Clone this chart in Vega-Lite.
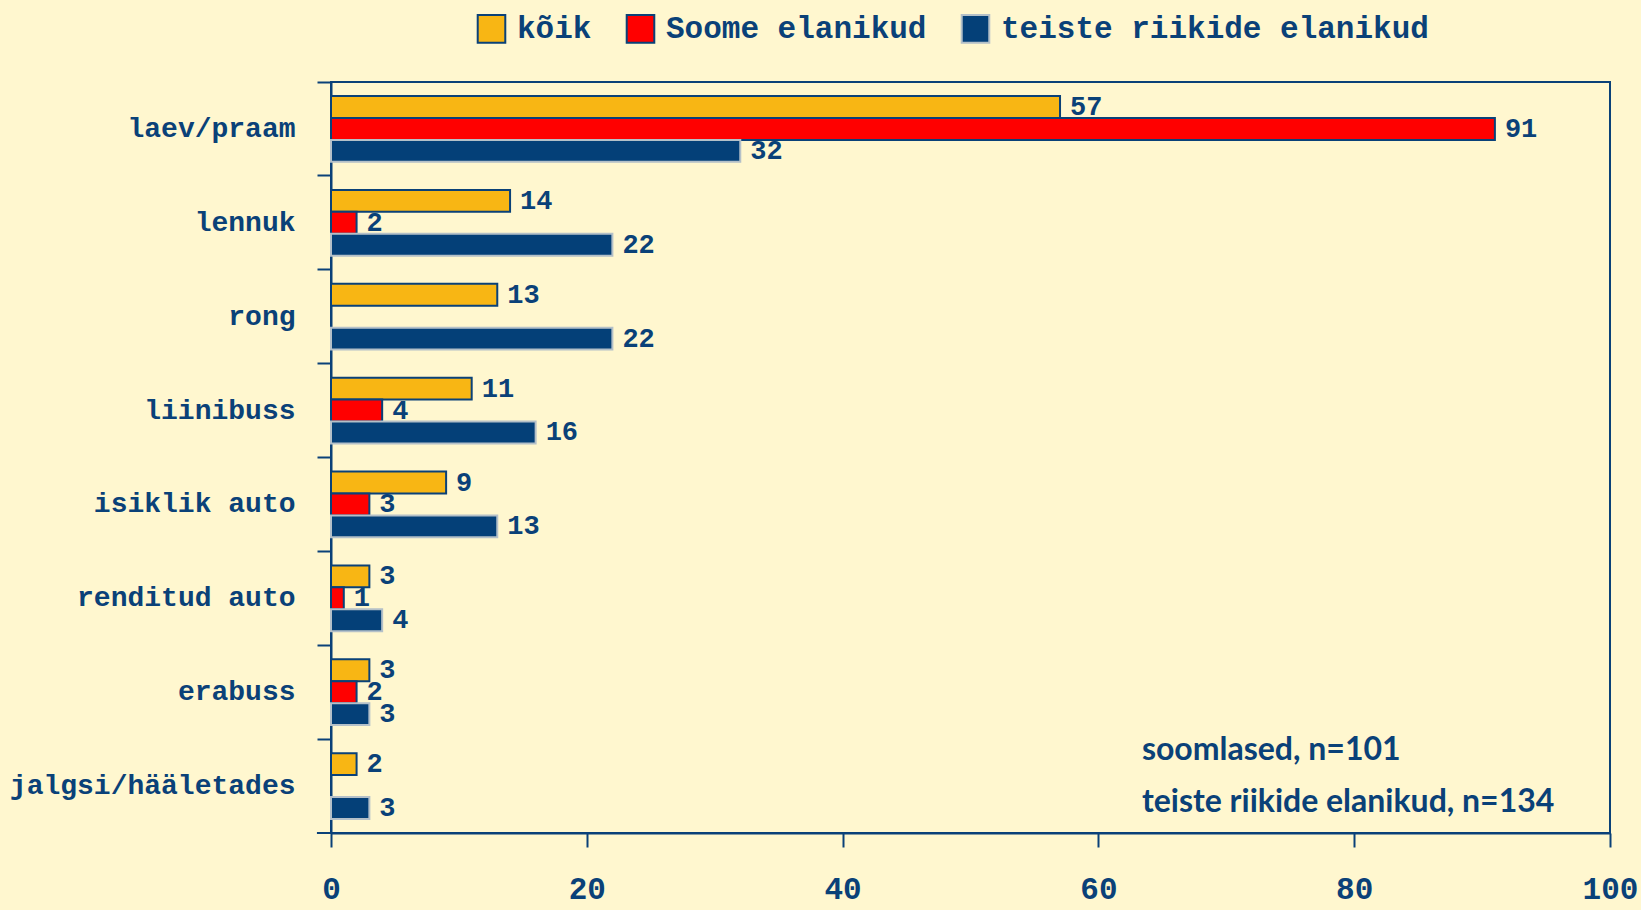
{
  "$schema": "https://vega.github.io/schema/vega-lite/v6.json",
  "width": 1279,
  "height": 751,
  "autosize": {"type": "none"},
  "padding": {"left": 331, "top": 82, "right": 31, "bottom": 77},
  "background": "#FFF7CF",
  "config": {
    "view": {"stroke": "#0A4178", "strokeWidth": 2},
    "font": "Liberation Mono"
  },
  "layer": [
    {
      "data": {
        "values": [
          {"mode": "laev/praam", "group": "kõik", "value": 57},
          {"mode": "laev/praam", "group": "Soome elanikud", "value": 91},
          {"mode": "laev/praam", "group": "teiste riikide elanikud", "value": 32},
          {"mode": "lennuk", "group": "kõik", "value": 14},
          {"mode": "lennuk", "group": "Soome elanikud", "value": 2},
          {"mode": "lennuk", "group": "teiste riikide elanikud", "value": 22},
          {"mode": "rong", "group": "kõik", "value": 13},
          {"mode": "rong", "group": "teiste riikide elanikud", "value": 22},
          {"mode": "liinibuss", "group": "kõik", "value": 11},
          {"mode": "liinibuss", "group": "Soome elanikud", "value": 4},
          {"mode": "liinibuss", "group": "teiste riikide elanikud", "value": 16},
          {"mode": "isiklik auto", "group": "kõik", "value": 9},
          {"mode": "isiklik auto", "group": "Soome elanikud", "value": 3},
          {"mode": "isiklik auto", "group": "teiste riikide elanikud", "value": 13},
          {"mode": "renditud auto", "group": "kõik", "value": 3},
          {"mode": "renditud auto", "group": "Soome elanikud", "value": 1},
          {"mode": "renditud auto", "group": "teiste riikide elanikud", "value": 4},
          {"mode": "erabuss", "group": "kõik", "value": 3},
          {"mode": "erabuss", "group": "Soome elanikud", "value": 2},
          {"mode": "erabuss", "group": "teiste riikide elanikud", "value": 3},
          {"mode": "jalgsi/hääletades", "group": "kõik", "value": 2},
          {"mode": "jalgsi/hääletades", "group": "teiste riikide elanikud", "value": 3}
        ]
      },
      "encoding": {
        "y": {
          "field": "mode", "type": "nominal",
          "sort": ["laev/praam", "lennuk", "rong", "liinibuss", "isiklik auto", "renditud auto", "erabuss", "jalgsi/hääletades"],
          "scale": {"paddingInner": 0.3, "paddingOuter": 0.15},
          "axis": {
            "title": null,
            "domainColor": "#0A4178", "domainWidth": 2,
            "tickColor": "#0A4178", "tickWidth": 2, "tickSize": 14,
            "bandPosition": -0.214,
            "labelFont": "Liberation Mono", "labelFontWeight": "bold", "labelFontSize": 28,
            "labelColor": "#0A4178", "labelPadding": 22, "labelLimit": 400
          }
        },
        "yOffset": {
          "field": "group", "type": "nominal",
          "sort": ["kõik", "Soome elanikud", "teiste riikide elanikud"],
          "scale": {"paddingInner": 0, "paddingOuter": 0}
        },
        "x": {
          "field": "value", "type": "quantitative",
          "scale": {"domain": [0, 100], "nice": false},
          "axis": {
            "title": null, "grid": false, "values": [0, 20, 40, 60, 80, 100],
            "domainColor": "#0A4178", "domainWidth": 2,
            "tickColor": "#0A4178", "tickWidth": 2, "tickSize": 14,
            "labelFont": "Liberation Mono", "labelFontWeight": "bold", "labelFontSize": 31,
            "labelColor": "#0A4178", "labelPadding": 27, "labelFlush": false
          }
        }
      },
      "layer": [
        {
          "mark": {"type": "bar", "strokeWidth": 2},
          "encoding": {
            "fill": {
              "field": "group", "type": "nominal",
              "sort": ["kõik", "Soome elanikud", "teiste riikide elanikud"],
              "scale": {"domain": ["kõik", "Soome elanikud", "teiste riikide elanikud"], "range": ["#F8B614", "#FF0000", "#044078"]},
              "legend": {
                "title": null, "orient": "none", "direction": "horizontal",
                "legendX": 145, "legendY": -69,
                "symbolType": "square", "symbolSize": 760, "symbolStrokeWidth": 2,
                "labelFont": "Liberation Mono", "labelFontWeight": "bold", "labelFontSize": 31,
                "labelColor": "#0A4178", "labelOffset": 10, "columnPadding": 30, "labelLimit": 600
              }
            },
            "stroke": {
              "field": "group", "type": "nominal",
              "sort": ["kõik", "Soome elanikud", "teiste riikide elanikud"],
              "scale": {"domain": ["kõik", "Soome elanikud", "teiste riikide elanikud"], "range": ["#0A4178", "#0A4178", "#B4C0C8"]},
              "legend": {
                "title": null, "orient": "none", "direction": "horizontal",
                "legendX": 145, "legendY": -69,
                "symbolType": "square", "symbolSize": 760, "symbolStrokeWidth": 2,
                "labelFont": "Liberation Mono", "labelFontWeight": "bold", "labelFontSize": 31,
                "labelColor": "#0A4178", "labelOffset": 10, "columnPadding": 30, "labelLimit": 600
              }
            }
          }
        },
        {
          "mark": {"type": "text", "align": "left", "baseline": "middle", "dx": 10, "font": "Liberation Mono", "fontWeight": "bold", "fontSize": 27, "color": "#0A4178"},
          "encoding": {"text": {"field": "value", "type": "quantitative"}}
        }
      ]
    },
    {
      "data": {"values": [{"tick": "bottom"}]},
      "mark": {"type": "rule", "color": "#0A4178", "strokeWidth": 2},
      "encoding": {
        "x": {"datum": -1.1, "type": "quantitative"},
        "x2": {"datum": 0},
        "y": {"datum": "jalgsi/hääletades", "type": "nominal", "bandPosition": 1.214}
      }
    },
    {
      "data": {"values": [{"note": "soomlased, n=101"}]},
      "mark": {"type": "text", "align": "left", "baseline": "alphabetic", "dy": -26, "font": "Lato", "fontWeight": "bold", "fontSize": 32, "color": "#0A4178"},
      "encoding": {
        "x": {"datum": 63.4, "type": "quantitative"},
        "y": {"datum": "jalgsi/hääletades", "type": "nominal"},
        "text": {"field": "note", "type": "nominal"}
      }
    },
    {
      "data": {"values": [{"note": "teiste riikide elanikud, n=134"}]},
      "mark": {"type": "text", "align": "left", "baseline": "alphabetic", "dy": 26, "font": "Lato", "fontWeight": "bold", "fontSize": 32, "color": "#0A4178"},
      "encoding": {
        "x": {"datum": 63.4, "type": "quantitative"},
        "y": {"datum": "jalgsi/hääletades", "type": "nominal"},
        "text": {"field": "note", "type": "nominal"}
      }
    }
  ]
}
